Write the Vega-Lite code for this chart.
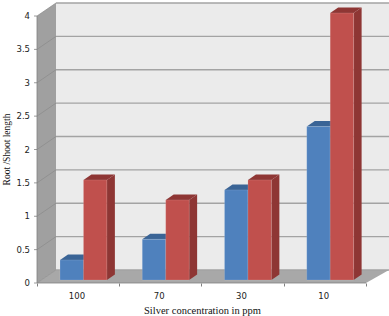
{"$schema":"https://vega.github.io/schema/vega-lite/v6.json","width":352,"height":280,"autosize":"none","padding":{"left":37,"top":3,"right":0,"bottom":33},"background":"#ffffff","config":{"view":{"stroke":null},"axisY":{"labels":false,"ticks":false},"axisX":{"tickCount":4,"labels":false}},
"datasets":{
"bars":[{"concentration":"100","series":"Series 1","value":0.3},{"concentration":"100","series":"Series 2","value":1.5},{"concentration":"70","series":"Series 1","value":0.61},{"concentration":"70","series":"Series 2","value":1.2},{"concentration":"30","series":"Series 1","value":1.35},{"concentration":"30","series":"Series 2","value":1.5},{"concentration":"10","series":"Series 1","value":2.3},{"concentration":"10","series":"Series 2","value":4.0}],
"levels":[{"level":0},{"level":0.5},{"level":1},{"level":1.5},{"level":2},{"level":2.5},{"level":3},{"level":3.5},{"level":4}],
"frame":[{"x0":0,"x1":4,"x2":0.231,"x3":4.28,"y0":0,"y1":4,"y2":0.195,"y3":4.195}]
},
"layer":[
{"data":{"name":"frame"},"mark":{"type":"rect","color":"#ebebeb"},"encoding":{
"x":{"field":"x2","type":"quantitative","scale":{"domain":[0,4.28],"nice":false,"zero":false},"axis":{"domain":false,"grid":false,"tickSize":3,"tickColor":"#808080","title":"Silver concentration in ppm","titleFont":"Liberation Serif","titleFontSize":10.5,"titleFontWeight":"normal","titleColor":"#111111","titleX":165,"titleY":27,"titleBaseline":"middle"}},
"x2":{"field":"x3"},
"y":{"field":"y2","type":"quantitative","scale":{"domain":[0,4.195],"nice":false,"zero":false},"axis":{"domain":false,"grid":false,"title":"Root /Shoot length","titleFont":"Liberation Serif","titleFontSize":9.5,"titleFontWeight":"normal","titleColor":"#111111","titleX":-26,"titleY":146}},
"y2":{"field":"y3"}}},
{"data":{"values":[{"wx":0,"wy":0,"wy2":4},{"wx":0.231,"wy":0.195,"wy2":4.195}]},"mark":{"type":"area","color":"#a0a0a0","orient":"vertical"},"encoding":{
"x":{"field":"wx","type":"quantitative"},"y":{"field":"wy","type":"quantitative"},"y2":{"field":"wy2"}}},
{"data":{"values":[{"fy":0,"fx":0,"fx2":4},{"fy":0.195,"fx":0.231,"fx2":4.28}]},"mark":{"type":"area","color":"#a8a8a8","orient":"horizontal"},"encoding":{
"y":{"field":"fy","type":"quantitative"},"x":{"field":"fx","type":"quantitative"},"x2":{"field":"fx2"}}},
{"data":{"name":"levels"},"transform":[{"calculate":"datum.level+0.195","as":"back"},{"calculate":"0.231","as":"a"},{"calculate":"4.28","as":"b"}],"mark":{"type":"rule","color":"#a3a3a3","strokeWidth":1.3},"encoding":{
"x":{"field":"a","type":"quantitative"},"x2":{"field":"b"},"y":{"field":"back","type":"quantitative"}}},
{"data":{"name":"levels"},"transform":[{"calculate":"datum.level+0.195","as":"back"},{"calculate":"0","as":"a"},{"calculate":"0.231","as":"b"}],"mark":{"type":"rule","color":"#8a8a8a","strokeWidth":0.7},"encoding":{
"x":{"field":"a","type":"quantitative"},"x2":{"field":"b"},"y":{"field":"level","type":"quantitative"},"y2":{"field":"back"}}},
{"data":{"name":"levels"},"transform":[{"calculate":"-0.036","as":"a"},{"calculate":"0","as":"b"}],"mark":{"type":"rule","color":"#808080","strokeWidth":0.8},"encoding":{
"x":{"field":"a","type":"quantitative"},"x2":{"field":"b"},"y":{"field":"level","type":"quantitative"}}},
{"data":{"name":"levels"},"transform":[{"calculate":"0","as":"a"}],"mark":{"type":"text","font":"DejaVu Sans","fontSize":8.5,"color":"#222222","align":"right","baseline":"middle","dx":-7},"encoding":{
"x":{"field":"a","type":"quantitative"},"y":{"field":"level","type":"quantitative"},"text":{"field":"level","type":"nominal"}}},
{"data":{"name":"frame"},"mark":{"type":"rule","color":"#808080","strokeWidth":0.8},"encoding":{"x":{"field":"x0","type":"quantitative"},"y":{"field":"y0","type":"quantitative"},"y2":{"field":"y1"}}},
{"data":{"name":"frame"},"mark":{"type":"rule","color":"#808080","strokeWidth":0.8},"encoding":{"x":{"field":"x0","type":"quantitative"},"x2":{"field":"x1"},"y":{"field":"y0","type":"quantitative"}}},
{"data":{"name":"bars"},"transform":[
{"calculate":"indexof(['100','70','30','10'],datum.concentration)+0.28+(datum.series==='Series 2'?0.285:0)","as":"x0"},
{"calculate":"datum.value+0.045","as":"top"},
{"calculate":"[0,1]","as":"d"},{"flatten":["d"]},
{"calculate":"datum.x0+datum.d*0.097","as":"tx"},
{"calculate":"datum.x0+0.285+datum.d*0.097","as":"tx2"},
{"calculate":"datum.top+datum.d*0.082","as":"ty"},
{"calculate":"datum.concentration+datum.series","as":"key"}],
"mark":{"type":"area","orient":"horizontal"},"encoding":{
"y":{"field":"ty","type":"quantitative"},"x":{"field":"tx","type":"quantitative"},"x2":{"field":"tx2"},"detail":{"field":"key"},
"color":{"field":"series","type":"nominal","legend":null,"scale":{"domain":["Series 1","Series 2"],"range":["#3a6496","#8e3634"]}}}},
{"data":{"name":"bars"},"transform":[
{"calculate":"indexof(['100','70','30','10'],datum.concentration)+0.28+(datum.series==='Series 2'?0.285:0)","as":"x0"},
{"calculate":"[0,1]","as":"d"},{"flatten":["d"]},
{"calculate":"datum.x0+0.285+datum.d*0.097","as":"sx"},
{"calculate":"0.045+datum.d*0.082","as":"sy"},
{"calculate":"datum.value+0.045+datum.d*0.082","as":"sy2"},
{"calculate":"datum.concentration+datum.series","as":"key"}],
"mark":{"type":"area","orient":"vertical"},"encoding":{
"x":{"field":"sx","type":"quantitative"},"y":{"field":"sy","type":"quantitative"},"y2":{"field":"sy2"},"detail":{"field":"key"},
"color":{"field":"series","type":"nominal","legend":null}}},
{"data":{"name":"bars"},"transform":[
{"calculate":"indexof(['100','70','30','10'],datum.concentration)+0.28+(datum.series==='Series 2'?0.285:0)","as":"x0"},
{"calculate":"datum.x0+0.285","as":"x1"},
{"calculate":"0.045","as":"base"},
{"calculate":"datum.value+0.045","as":"top"}],
"mark":{"type":"rect","stroke":"#ffffff","strokeOpacity":0.25,"strokeWidth":0.5},"encoding":{
"x":{"field":"x0","type":"quantitative"},"x2":{"field":"x1"},"y":{"field":"base","type":"quantitative"},"y2":{"field":"top"},
"fill":{"field":"series","type":"nominal","legend":null,"scale":{"domain":["Series 1","Series 2"],"range":["#4f81bd","#c0504d"]}}}},
{"data":{"name":"bars"},"transform":[{"filter":"datum.series==='Series 1'"},{"calculate":"indexof(['100','70','30','10'],datum.concentration)+0.486","as":"lx"},{"calculate":"0","as":"ly"}],
"mark":{"type":"text","font":"DejaVu Sans","fontSize":8.5,"color":"#222222","dy":13},"encoding":{
"x":{"field":"lx","type":"quantitative"},"y":{"field":"ly","type":"quantitative"},"text":{"field":"concentration"}}}
]}
